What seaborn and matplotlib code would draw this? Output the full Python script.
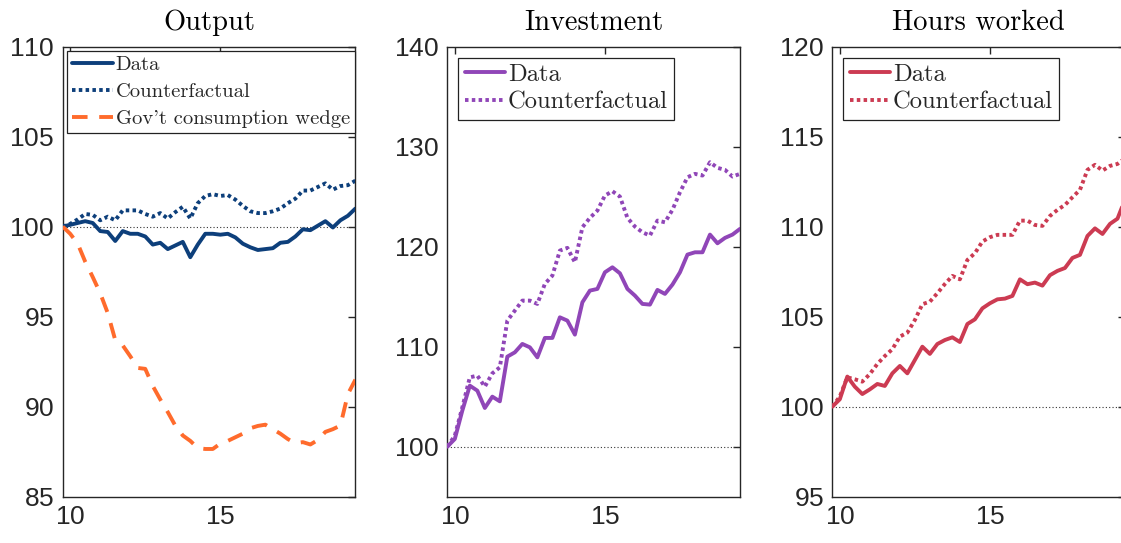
import numpy as np
import pandas as pd
import matplotlib
matplotlib.use("Agg")
import matplotlib.pyplot as plt
import seaborn as sns

# Quarterly time axis (years since 2000)
quarters = [9.75 + 0.25 * k for k in range(40)]

# Output (index, start = 100)
output_data = [100.0, 100.1, 100.2, 100.3, 100.2, 99.75, 99.7, 99.2, 99.75, 99.6,
               99.6, 99.45, 99.0, 99.1, 98.75, 98.95, 99.15, 98.3, 99.0, 99.6,
               99.6, 99.55, 99.6, 99.4, 99.05, 98.85, 98.7, 98.75, 98.8, 99.1,
               99.15, 99.45, 99.85, 99.8, 100.05, 100.3, 99.95, 100.35, 100.6, 101.0]
output_cf = [100.0, 100.15, 100.4, 100.7, 100.65, 100.35, 100.55, 100.35, 100.9, 100.9,
             100.9, 100.7, 100.55, 100.75, 100.45, 100.8, 101.1, 100.45, 101.3, 101.7,
             101.8, 101.7, 101.75, 101.5, 101.15, 100.85, 100.75, 100.75, 100.85, 101.0,
             101.3, 101.55, 102.0, 102.0, 102.2, 102.4, 102.05, 102.25, 102.3, 102.55]
output_gov = [100.0, 99.6, 99.05, 98.05, 97.2, 96.3, 95.2, 93.7, 93.4, 92.8,
              92.15, 92.1, 91.15, 90.4, 89.7, 88.95, 88.4, 88.1, 87.7, 87.65,
              87.65, 87.95, 88.1, 88.3, 88.5, 88.8, 88.93, 89.0, 88.75, 88.5,
              88.2, 87.97, 88.03, 87.9, 88.15, 88.6, 88.75, 88.95, 90.7, 91.5]

# Investment
invest_data = [100.0, 100.77, 103.6, 106.1, 105.6, 103.87, 105.0, 104.53, 109.0, 109.43,
               110.27, 109.93, 108.93, 110.87, 110.87, 112.93, 112.6, 111.2, 114.43, 115.6,
               115.77, 117.43, 117.93, 117.33, 115.77, 115.1, 114.27, 114.2, 115.67, 115.27,
               116.2, 117.43, 119.2, 119.43, 119.43, 121.2, 120.33, 120.87, 121.2, 121.77]
invest_cf = [100.0, 101.1, 103.93, 106.93, 107.1, 106.0, 107.33, 107.93, 112.6, 113.6,
             114.6, 114.6, 114.27, 116.27, 117.1, 119.6, 119.87, 118.43, 121.93, 122.87,
             123.6, 125.1, 125.53, 125.0, 122.87, 122.0, 121.43, 121.1, 122.6, 122.43,
             123.67, 125.43, 126.93, 127.27, 127.1, 128.43, 127.87, 127.67, 127.0, 127.27]

# Hours worked
hours_data = [100.0, 100.41, 101.67, 101.11, 100.7, 100.96, 101.26, 101.15, 101.85, 102.26,
              101.85, 102.59, 103.33, 102.93, 103.48, 103.7, 103.85, 103.59, 104.59, 104.85,
              105.46, 105.74, 105.96, 106.0, 106.15, 107.07, 106.8, 106.89, 106.72, 107.3,
              107.54, 107.7, 108.26, 108.43, 109.48, 109.9, 109.59, 110.15, 110.44, 111.5]
hours_cf = [100.0, 100.56, 101.63, 101.52, 101.39, 101.81, 102.37, 102.81, 103.19, 103.89,
            104.11, 104.81, 105.69, 105.83, 106.3, 106.81, 107.26, 107.07, 108.15, 108.52,
            109.17, 109.41, 109.54, 109.54, 109.54, 110.33, 110.33, 110.09, 110.04, 110.59,
            110.93, 111.2, 111.63, 112.04, 113.15, 113.43, 113.11, 113.37, 113.48, 113.8]

titles = ["Output", "Investment", "Hours worked"]
ylims = [(85, 110), (95, 140), (95, 120)]
yticks = [[85, 90, 95, 100, 105, 110], [100, 110, 120, 130, 140], [95, 100, 105, 110, 115, 120]]
xticks = [10, 15]

navy = "#0d3f7b"
orange = "#ff6b2c"
purple = "#9046b8"
red = "#cc3b52"

sns.set_theme(style="white")
plt.rcParams["font.family"] = ["Liberation Sans", "DejaVu Sans"]
plt.rcParams["axes.formatter.use_mathtext"] = True
plt.rcParams["mathtext.fontset"] = "cm"

fig = plt.figure(figsize=(11.21, 5.43), dpi=100)
W, H = 1121.0, 543.0
top_px, bot_px, width_px = 46.5, 496.7, 292.7
lefts_px = [62.7, 447.3, 832.3]
axes = [fig.add_axes([l / W, (H - bot_px) / H, width_px / W, (bot_px - top_px) / H])
        for l in lefts_px]

lw = 2.8
dotted = (0, (0.9, 0.85))
dashed = (0, (4.0, 3.0))

panels = [
    [(output_data, navy, "-", "Data"),
     (output_cf, navy, dotted, "Counterfactual"),
     (output_gov, orange, dashed, "Gov't consumption wedge")],
    [(invest_data, purple, "-", "Data"),
     (invest_cf, purple, dotted, "Counterfactual")],
    [(hours_data, red, "-", "Data"),
     (hours_cf, red, dotted, "Counterfactual")],
]
legend_cfg = [
    dict(size=14.8, handlelength=2.0, labelspacing=0.42, borderaxespad=0.2),
    dict(size=17.7, handlelength=1.65, labelspacing=0.22, borderaxespad=0.45),
    dict(size=17.7, handlelength=1.65, labelspacing=0.22, borderaxespad=0.45),
]

for k, ax in enumerate(axes):
    ax.axhline(100, color="#333333", lw=0.8, ls=(0, (1, 2)), zorder=1)
    for series, col, ls, lab in panels[k]:
        sns.lineplot(x=quarters, y=series, ax=ax, color=col, lw=lw, linestyle=ls,
                     label=lab, estimator=None, zorder=3)
    ax.set_xticks(xticks)
    ax.set_yticks(yticks[k])
    ax.set_xlim(9.75, 19.5)
    ax.set_ylim(*ylims[k])
    ax.tick_params(direction="in", length=5, width=1, colors="#262626",
                   labelsize=19, top=True, right=True, pad=6)
    for sp in ax.spines.values():
        sp.set_color("#262626")
        sp.set_linewidth(1.0)
    ax.set_title(titles[k], fontfamily="cmr10", fontsize=20.5, color="black", pad=12)
    cfg = legend_cfg[k]
    leg = ax.legend(loc="upper left", prop={"family": "cmr10", "size": cfg["size"]},
                    frameon=True, fancybox=False, framealpha=1, edgecolor="#222222",
                    handlelength=cfg["handlelength"], handletextpad=0.12, borderpad=0.25,
                    labelspacing=cfg["labelspacing"], borderaxespad=cfg["borderaxespad"])
    leg.get_frame().set_linewidth(0.9)

fig.savefig("out.png", dpi=100, facecolor="white")
